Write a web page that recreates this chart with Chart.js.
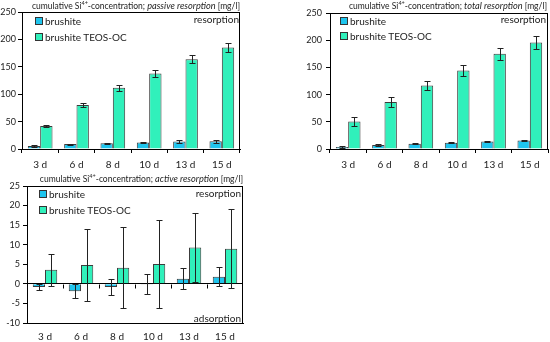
<!DOCTYPE html>
<html>
<head>
<meta charset="utf-8">
<script src="https://cdn.jsdelivr.net/npm/chart.js@4.4.1/dist/chart.umd.min.js"></script>
<style>
  body { margin: 0; background: #fff; }
  #wrap { position: relative; width: 550px; height: 342px; overflow: hidden; font-family: Lato, sans-serif; color: #222; }
  canvas { position: absolute; }
  .txt { position: absolute; font-size: 10px; line-height: 12px; white-space: nowrap; }
  .ttl { position: absolute; font-size: 8.5px; line-height: 12px; white-space: nowrap; }
  .ttl i { font-size: 1.08em; }
  .lg { position: absolute; font-size: 10px; line-height: 12px; white-space: nowrap; }
  .lg span { display: inline-block; width: 6px; height: 6px; border: 1px solid #333; margin-right: 2px; vertical-align: 0px; }
  sup { font-size: 5.5px; vertical-align: 4px; line-height: 0; }
</style>
</head>
<body>
<div id="wrap">
  <canvas id="c1" width="275" height="170" style="left:0;top:0"></canvas>
  <canvas id="c2" width="275" height="170" style="left:275px;top:0"></canvas>
  <canvas id="c3" width="275" height="172" style="left:0;top:170px"></canvas>
</div>
<script>
// categories and series
const days = ['3 d', '6 d', '8 d', '10 d', '13 d', '15 d'];
const seriesNames = ['brushite', 'brushite TEOS-OC'];
const seriesColors = ['#1ec5ee', '#30f0bb'];

const passiveBrushite = [5.5, 9, 10.4, 12, 13.5, 14];
const passiveBrushiteErr = [1, 1, 1, 1.5, 2.5, 3];
const passiveTeos = [42, 80.5, 111.6, 137.8, 164, 185.4];
const passiveTeosErr = [2, 3, 6, 6, 7, 8];

const totalBrushite = [3.7, 7.4, 9.8, 11.7, 14, 15.4];
const totalBrushiteErr = [1, 1.5, 1, 1.5, 1, 1.5];
const totalTeos = [50.4, 86.6, 116.7, 144.3, 175, 196];
const totalTeosErr = [9, 8.6, 8.6, 10, 11, 12.6];

const activeBrushite = [-0.8, -1.9, -0.8, -0.05, 1.3, 1.8];
const activeBrushiteErr = [0.7, 1.8, 2.1, 2.5, 2.7, 2.4];
const activeTeos = [3.6, 4.8, 4.1, 5.1, 9.3, 9.0];
const activeTeosErr = [4.1, 9.2, 10.3, 11.2, 8.8, 10];

const FONT = 'Lato, sans-serif';

// error bars, plot frame and zero-line ticks
const extras = {
  id: 'extras',
  beforeDatasetsDraw(chart) {
    const a = chart.chartArea, ctx = chart.ctx;
    ctx.save();
    ctx.strokeStyle = '#000';
    ctx.lineWidth = 1;
    ctx.strokeRect(Math.round(a.left) + 0.5, Math.round(a.top) + 0.5, Math.round(a.right - a.left) - 1, Math.round(a.bottom - a.top));
    ctx.restore();
  },
  afterDatasetsDraw(chart) {
    const ctx = chart.ctx, y = chart.scales.y, x = chart.scales.x;
    ctx.save();
    ctx.strokeStyle = '#222';
    ctx.lineWidth = 1;
    chart.data.datasets.forEach((ds, di) => {
      const meta = chart.getDatasetMeta(di);
      meta.data.forEach((bar, i) => {
        const v = ds.data[i], e = ds.errors[i];
        const px = Math.round(bar.x) + 0.5;
        const t = Math.round(y.getPixelForValue(v + e)) + 0.5;
        const b = Math.round(y.getPixelForValue(v - e)) + 0.5;
        ctx.beginPath();
        ctx.moveTo(px, t); ctx.lineTo(px, b);
        ctx.moveTo(px - 3, t); ctx.lineTo(px + 3, t);
        ctx.moveTo(px - 3, b); ctx.lineTo(px + 3, b);
        ctx.stroke();
      });
    });
    if (chart.options.zeroTicks) {
      const y0 = Math.round(y.getPixelForValue(0)) + 0.5;
      ctx.strokeStyle = '#000';
      ctx.beginPath();
      for (let i = 0; i < days.length - 1; i++) {
        const bx = Math.round((x.getPixelForValue(i) + x.getPixelForValue(i + 1)) / 2) + 0.5;
        ctx.moveTo(bx, y0); ctx.lineTo(bx, y0 + 4);
      }
      ctx.stroke();
    }
    ctx.restore();
  }
};

function makePanel(id, a, aErr, b, bErr, yOpts, box) {
  return new Chart(document.getElementById(id), {
    type: 'bar',
    data: {
      labels: days,
      datasets: [
        { label: seriesNames[0], data: a, errors: aErr, backgroundColor: seriesColors[0], borderColor: '#3c3c3c', borderWidth: 1 },
        { label: seriesNames[1], data: b, errors: bErr, backgroundColor: seriesColors[1], borderColor: '#3c3c3c', borderWidth: 1 }
      ]
    },
    options: {
      responsive: false,
      animation: false,
      devicePixelRatio: 1,
      zeroTicks: box.zeroTicks,
      layout: { padding: { top: box.top, right: box.right, left: 0, bottom: 0 } },
      plugins: { legend: { display: false }, tooltip: { enabled: false } },
      datasets: { bar: { categoryPercentage: 0.68, barPercentage: 1.0 } },
      scales: {
        x: {
          grid: { display: !box.zeroTicks, drawOnChartArea: false, color: '#000', tickLength: 4 },
          border: { color: '#000' },
          ticks: { color: '#222', font: { family: FONT, size: 10 }, padding: box.xPad },
          afterFit(s) { s.height = box.xH; }
        },
        y: Object.assign({
          grid: {
            drawOnChartArea: !!box.zeroTicks,
            color: c => (c.tick && c.tick.value === 0) ? '#000' : 'rgba(0,0,0,0)',
            tickColor: '#000',
            tickLength: 4
          },
          border: { color: '#000' },
          afterFit(s) { s.width = box.yW; }
        }, yOpts)
      }
    },
    plugins: [extras]
  });
}

makePanel('c1', passiveBrushite, passiveBrushiteErr, passiveTeos, passiveTeosErr,
  { min: 0, max: 250, ticks: { stepSize: 50, color: '#222', font: { family: FONT, size: 9 }, padding: 2 } },
  { top: 12, right: 35, xH: 21, yW: 22, xPad: 6 });

makePanel('c2', totalBrushite, totalBrushiteErr, totalTeos, totalTeosErr,
  { min: 0, max: 250, ticks: { stepSize: 50, color: '#222', font: { family: FONT, size: 9 }, padding: 4 } },
  { top: 13, right: 2, xH: 21, yW: 55, xPad: 6 });

makePanel('c3', activeBrushite, activeBrushiteErr, activeTeos, activeTeosErr,
  { min: -10, max: 25, ticks: { stepSize: 5, color: '#222', font: { family: FONT, size: 9 }, padding: 3 } },
  { top: 16, right: 32, xH: 19, yW: 27, xPad: 4, zeroTicks: true });

// titles, legends and notes as text
const wrap = document.getElementById('wrap');
function addText(cls, html, style) {
  const d = document.createElement('div');
  d.className = cls;
  d.innerHTML = html;
  Object.assign(d.style, style);
  wrap.appendChild(d);
}
const titles = [
  ['passive resorption', 550 - 240, 0],
  ['total resorption', 550 - 547, 0],
  ['active resorption', 550 - 243, 173]
];
titles.forEach(t => addText('ttl', 'cumulative Si<sup>4+</sup>-concentration; <i>' + t[0] + '</i> [mg/l]',
  { right: t[1] + 'px', top: t[2] + 'px' }));

const legends = [[35, 15, 31], [340, 15, 30], [39, 188, 204]];
legends.forEach(l => {
  seriesNames.forEach((n, i) => addText('lg', '<span style="background:' + seriesColors[i] + '"></span>' + n,
    { left: l[0] + 'px', top: l[i + 1] + 'px' }));
});

addText('txt', 'resorption', { right: (550 - 239) + 'px', top: '13px' });
addText('txt', 'resorption', { right: (550 - 546) + 'px', top: '13px' });
addText('txt', 'resorption', { right: (550 - 241) + 'px', top: '187px' });
addText('txt', 'adsorption', { right: (550 - 241) + 'px', top: '312px' });
</script>
</body>
</html>
